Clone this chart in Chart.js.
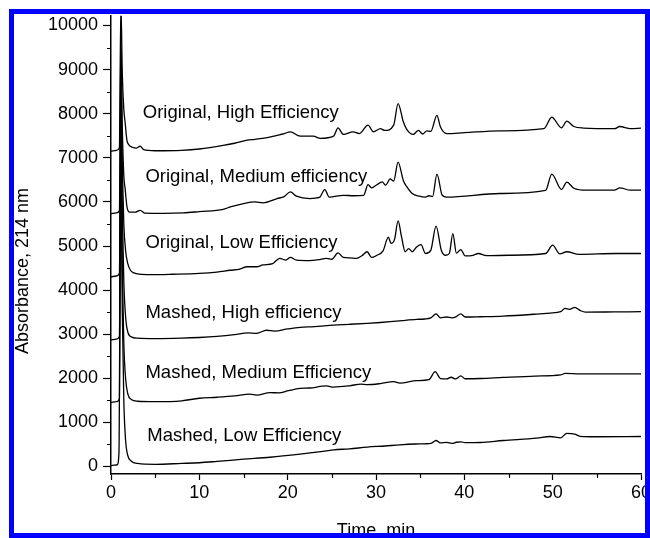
<!DOCTYPE html>
<html>
<head>
<meta charset="utf-8">
<script src="https://cdn.jsdelivr.net/npm/chart.js@4.4.0/dist/chart.umd.min.js"></script>
<style>
  html, body { margin: 0; padding: 0; background: #fff; }
  #wrap { position: relative; width: 650px; height: 538px; overflow: hidden; }
  #frame {
    position: absolute; left: 9px; top: 9px; width: 641px; height: 529px;
    box-sizing: border-box; border: 5px solid #0000ff; pointer-events: none;
  }
</style>
</head>
<body>
<div id="wrap">
  <canvas id="chart" width="650" height="538"></canvas>
  <div id="frame"></div>
</div>
<script>
// Chromatogram traces (time in min, absorbance at 214 nm)
const origHighTime = [0, 0.6, 0.95, 1.12, 1.28, 1.45, 1.6, 1.8, 2.0, 2.4, 2.9, 3.3, 3.7, 5, 8, 10, 12.7, 14, 15.4, 16.3, 17.5, 18.8, 19.5, 20.3, 21.4, 22.9, 23.7, 25.2, 25.7, 26.3, 27.4, 28.1, 29.1, 29.7, 30.5, 31.0, 32.0, 32.5, 33.1, 33.5, 34.2, 34.8, 35.3, 35.75, 36.2, 36.9, 37.3, 38.0, 40, 44, 49.0, 49.9, 51.0, 51.6, 52.4, 53.5, 57, 57.6, 58.8, 60];
const origHighAbs = [7150, 7170, 7230, 10500, 8900, 8100, 7800, 7400, 7300, 7240, 7220, 7265, 7185, 7160, 7170, 7200, 7280, 7330, 7400, 7420, 7450, 7510, 7540, 7590, 7490, 7490, 7440, 7490, 7680, 7530, 7590, 7550, 7740, 7590, 7660, 7620, 7740, 8230, 7810, 7640, 7530, 7620, 7540, 7610, 7600, 7960, 7700, 7550, 7570, 7610, 7660, 7920, 7680, 7830, 7710, 7675, 7660, 7710, 7660, 7675];

const origMedTime = [0, 0.6, 0.95, 1.12, 1.28, 1.45, 1.6, 1.8, 2.1, 2.8, 3.3, 3.85, 6, 8.2, 10, 12.7, 13.5, 15.0, 16.3, 17.2, 18.8, 19.6, 20.3, 21.0, 22.5, 23.6, 24.2, 24.7, 26.3, 27.5, 28.6, 29.1, 29.5, 30.1, 30.7, 31.1, 31.6, 32.0, 32.5, 33.1, 33.5, 34.1, 34.9, 35.6, 36.0, 36.4, 36.9, 37.5, 38.0, 44, 49.2, 49.9, 51.0, 51.6, 52.4, 53.8, 57, 57.6, 58.8, 60];
const origMedAbs = [5730, 5750, 5800, 9700, 7700, 6600, 6300, 5900, 5770, 5770, 5810, 5745, 5740, 5750, 5780, 5830, 5886, 5963, 6000, 5980, 6076, 6120, 6226, 6130, 6076, 6100, 6280, 6110, 6150, 6140, 6150, 6390, 6320, 6390, 6453, 6380, 6520, 6470, 6900, 6480, 6340, 6190, 6130, 6110, 6140, 6120, 6630, 6150, 6110, 6190, 6260, 6630, 6280, 6450, 6310, 6265, 6265, 6320, 6265, 6265];

const origLowTime = [0, 0.6, 0.95, 1.12, 1.28, 1.45, 1.65, 1.9, 2.2, 2.6, 3.2, 4.5, 7, 10, 12, 13.5, 14.5, 15.4, 16.5, 17.2, 18.3, 19.1, 19.8, 20.3, 21.0, 22.5, 23.5, 24.4, 25.0, 25.7, 26.3, 27.0, 27.8, 28.4, 29.0, 29.5, 30.1, 30.8, 31.4, 31.7, 32.1, 32.5, 32.9, 33.3, 33.7, 34.1, 34.6, 35.1, 35.6, 36.2, 36.8, 37.4, 37.9, 38.3, 38.7, 39.1, 39.6, 40.1, 41.0, 41.6, 42.5, 45, 49.2, 50.0, 50.8, 51.6, 53, 57.2, 60];
const origLowAbs = [4300, 4320, 4380, 8800, 6800, 5500, 4900, 4600, 4450, 4390, 4360, 4350, 4360, 4380, 4410, 4450, 4470, 4530, 4530, 4570, 4600, 4720, 4680, 4740, 4680, 4670, 4690, 4720, 4700, 4845, 4740, 4730, 4720, 4780, 4870, 4740, 4790, 4890, 5200, 5060, 5150, 5570, 5200, 4870, 4940, 4870, 4980, 5030, 4830, 4900, 5450, 4900, 4790, 4830, 5280, 4840, 4920, 4775, 4790, 4830, 4780, 4790, 4830, 5020, 4820, 4870, 4810, 4830, 4830];

const mashHighTime = [0, 0.6, 0.95, 1.12, 1.28, 1.45, 1.65, 1.9, 2.3, 3, 5, 8, 10, 12, 14, 15.5, 16.5, 17.6, 18.5, 20, 21.4, 23, 25.2, 27, 29, 30.5, 31.6, 33, 34.6, 35.5, 36.2, 36.8, 37.3, 38.0, 38.6, 39.1, 39.6, 40.1, 41.8, 44.4, 48.2, 49.7, 50.9, 51.4, 51.9, 52.5, 53.1, 53.7, 57, 60];
const mashHighAbs = [2870, 2890, 2950, 8200, 5800, 4200, 3400, 3050, 2940, 2910, 2900, 2910, 2925, 2950, 2990, 3030, 3020, 3090, 3070, 3120, 3156, 3170, 3208, 3225, 3246, 3265, 3283, 3310, 3337, 3345, 3370, 3460, 3370, 3390, 3370, 3400, 3460, 3390, 3396, 3410, 3457, 3480, 3510, 3586, 3565, 3608, 3540, 3500, 3505, 3510];

const mashMedTime = [0, 0.6, 0.95, 1.12, 1.28, 1.45, 1.65, 1.9, 2.3, 3, 5, 8, 10, 12, 14, 15.7, 16.5, 18, 19, 20.1, 21.4, 22.5, 24.4, 25.2, 27, 28.3, 29.0, 30.5, 32.0, 32.7, 34.6, 36.0, 36.7, 37.3, 38.0, 38.5, 39.0, 39.6, 40.1, 41.8, 44.4, 48, 50.9, 51.4, 53.1, 60];
const mashMedAbs = [1450, 1470, 1530, 7600, 4500, 2800, 2000, 1650, 1520, 1480, 1470, 1490, 1548, 1570, 1600, 1640, 1620, 1675, 1670, 1720, 1770, 1780, 1827, 1800, 1830, 1870, 1855, 1880, 1925, 1890, 1947, 1970, 2151, 1995, 1985, 2024, 1985, 2053, 1990, 1995, 2020, 2050, 2076, 2110, 2099, 2099];

const mashLowTime = [0, 0.7, 0.9, 1.1, 1.28, 1.45, 1.65, 1.9, 2.3, 3, 5, 8, 10, 12, 15, 18, 21.4, 23.5, 25.2, 27, 29, 31, 32.7, 34.5, 35.5, 36.3, 36.8, 37.3, 38.0, 38.6, 39.1, 39.6, 40.1, 41.8, 44.4, 48.2, 49.7, 50.9, 51.6, 52.5, 53.1, 55, 60];
const mashLowAbs = [20, 40, 300, 6800, 3500, 1500, 600, 250, 120, 70, 50, 70, 85, 115, 165, 210, 280, 330, 378, 400, 439, 465, 491, 510, 515, 530, 590, 535, 545, 525, 550, 560, 540, 544, 590, 643, 680, 650, 750, 733, 685, 675, 680];

// Trace captions, placed in data coordinates (left edge)
const traceNames = ['Original, High Efficiency', 'Original, Medium efficiency', 'Original, Low Efficiency',
  'Mashed, High efficiency', 'Mashed, Medium Efficiency', 'Mashed, Low Efficiency'];
const nameTime = [3.6, 3.9, 3.9, 3.9, 3.9, 4.1];
const nameAbs = [8015, 6565, 5071, 3480, 2121, 694];

// Major tick labels on the absorbance axis, and minor tick positions
const yTickValues = [0, 1000, 2000, 3000, 4000, 5000, 6000, 7000, 8000, 9000, 10000];
const xMinorTicks = [5, 15, 25, 35, 45, 55];
const yMinorTicks = [500, 1500, 2500, 3500, 4500, 5500, 6500, 7500, 8500, 9500];

const FONT = '"Liberation Sans", Arial, Helvetica, sans-serif';

const traces = [
  [origHighTime, origHighAbs], [origMedTime, origMedAbs], [origLowTime, origLowAbs],
  [mashHighTime, mashHighAbs], [mashMedTime, mashMedAbs], [mashLowTime, mashLowAbs],
];

// Draws minor ticks plus the captions and axis titles
const decorations = {
  id: 'decorations',
  afterDraw(chart) {
    const { ctx, chartArea, scales: { x, y } } = chart;
    ctx.save();
    ctx.strokeStyle = '#000';
    ctx.lineWidth = 1.2;
    ctx.beginPath();
    xMinorTicks.forEach(v => {
      const px = Math.round(x.getPixelForValue(v)) + 0.5;
      ctx.moveTo(px, chartArea.bottom);
      ctx.lineTo(px, chartArea.bottom + 4);
    });
    yMinorTicks.forEach(v => {
      const py = Math.round(y.getPixelForValue(v)) + 0.5;
      ctx.moveTo(chartArea.left, py);
      ctx.lineTo(chartArea.left - 4, py);
    });
    ctx.stroke();

    ctx.fillStyle = '#000';
    ctx.font = '18.5px ' + FONT;
    ctx.textAlign = 'left';
    ctx.textBaseline = 'middle';
    traceNames.forEach((name, i) => {
      ctx.fillText(name, x.getPixelForValue(nameTime[i]), y.getPixelForValue(nameAbs[i]));
    });

    // axis titles
    ctx.font = '18px ' + FONT;
    ctx.textAlign = 'center';
    ctx.textBaseline = 'alphabetic';
    ctx.fillText('Time, min', (chartArea.left + chartArea.right) / 2, 536);
    ctx.translate(28, 271);
    ctx.rotate(-Math.PI / 2);
    ctx.fillText('Absorbance, 214 nm', 0, 0);
    ctx.restore();
  }
};

const tickFont = { family: FONT, size: 18 };

new Chart(document.getElementById('chart'), {
  type: 'line',
  data: {
    datasets: traces.map(([t, a]) => ({
      data: t.map((v, i) => ({ x: v, y: a[i] })),
      borderColor: '#000',
      borderWidth: 1.3,
      pointRadius: 0,
      cubicInterpolationMode: 'monotone',
      fill: false,
    })),
  },
  options: {
    responsive: false,
    animation: false,
    layout: { padding: { top: 15, right: 9, left: 0, bottom: 0 } },
    plugins: { legend: { display: false }, tooltip: { enabled: false } },
    scales: {
      x: {
        type: 'linear',
        min: 0,
        max: 60,
        ticks: { stepSize: 10, color: '#000', font: tickFont, padding: 2, maxRotation: 0 },
        grid: { drawOnChartArea: false, tickLength: 6, color: '#000', tickWidth: 1.2 },
        border: { color: '#000', width: 1.5 },
        afterFit: s => { s.height = 64; s.paddingLeft = 0; s.paddingRight = 0; },
      },
      y: {
        min: -170,
        max: 10220,
        ticks: { color: '#000', font: tickFont, padding: 5, callback: v => String(v) },
        afterBuildTicks: s => { s.ticks = yTickValues.map(v => ({ value: v })); },
        grid: { drawOnChartArea: false, tickLength: 8, color: '#000', tickWidth: 1.2 },
        border: { color: '#000', width: 1.5 },
        afterFit: s => { s.width = 111; },
      },
    },
  },
  plugins: [decorations],
});
</script>
</body>
</html>
